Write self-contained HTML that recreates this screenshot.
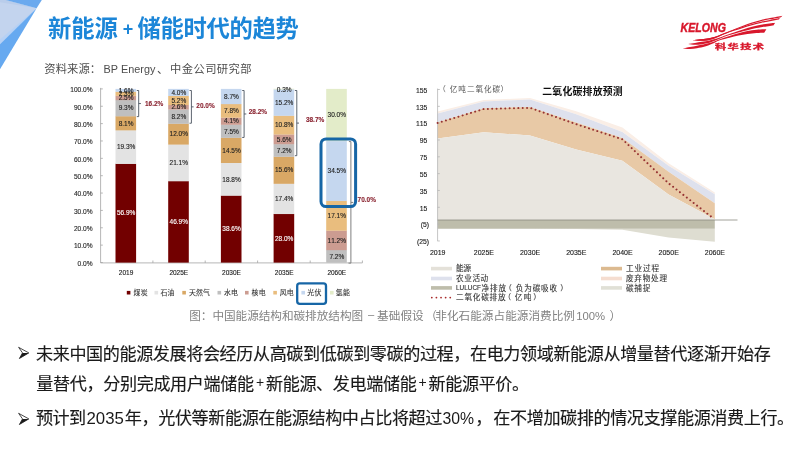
<!DOCTYPE html>
<html lang="zh-CN">
<head>
<meta charset="utf-8">
<title>新能源+储能时代的趋势</title>
<style>
html,body{margin:0;padding:0;background:#fff;}
body{width:800px;height:450px;overflow:hidden;font-family:"Liberation Sans","Noto Sans CJK SC",sans-serif;}
#slide{position:relative;width:800px;height:450px;background:#fff;overflow:hidden;}
#slide svg{position:absolute;left:0;top:0;display:block;will-change:transform;}
svg text{font-family:"Liberation Sans","Noto Sans CJK SC",sans-serif;font-kerning:none;}
.tx{position:absolute;margin:0;padding:0;color:transparent;white-space:nowrap;font-family:"Liberation Sans","Noto Sans CJK SC",sans-serif;font-weight:normal;line-height:1.2;list-style:none;}
.tx li{margin:0;padding:0;}
</style>
</head>
<body>
<div id="slide">
<svg width="800" height="450" viewBox="0 0 800 450">
<defs>
<filter id="soft" x="-2%" y="-2%" width="104%" height="104%"><feGaussianBlur stdDeviation="0.3"/></filter>
</defs>
<g id="bg-deco"><polygon points="0,0 5.6,0 36.6,8.3 0,44.2" fill="#c3d4ee"/><polygon points="0,0 5.6,0 36.6,8.3 0,2.2" fill="#b9cdeb"/><polygon points="36.6,8.3 0,39.5 0,44.2" fill="#b6d1f5"/><polygon points="5.6,0 41.8,0 36.6,8.3" fill="#6aa9ee"/><polygon points="36.6,8.3 0,44.2 0,69.2" fill="#66a9f0"/></g>
<g id="title" aria-hidden="true">
<text x="47.98" y="36.70" font-size="23.3" font-weight="bold" fill="#1c86d8" textLength="69.9" lengthAdjust="spacing">新能源</text>
<text x="127.9" y="35.2" font-size="18" font-weight="bold" fill="#1c86d8" text-anchor="middle">+</text>
<text x="137.39" y="36.70" font-size="23.3" font-weight="bold" fill="#1c86d8" textLength="161.3" lengthAdjust="spacing">储能时代的趋势</text>
</g>
<g id="source" aria-hidden="true">
<text x="44.25" y="72.70" font-size="11.3" fill="#4d4d4d" textLength="56.9" lengthAdjust="spacing">资料来源：</text>
<text transform="translate(103.40 72.50) scale(0.9459 1)" font-size="11.5" fill="#4d4d4d">BP Energy</text>
<text x="157.00" y="72.70" font-size="11.3" fill="#4d4d4d">、</text>
<text x="170.12" y="72.70" font-size="11.3" fill="#4d4d4d" textLength="81.4" lengthAdjust="spacing">中金公司研究部</text>
</g>
<g id="logo" role="img" aria-label="KELONG 科华技术" fill="#d8182c">
<path d="M693.30 40.05C694.42 39.91 697.72 39.48 700.00 39.20C702.28 38.93 704.83 38.73 707.00 38.40C709.17 38.07 711.17 37.66 713.00 37.20C714.83 36.74 716.00 36.39 718.00 35.65C720.00 34.91 722.33 33.87 725.00 32.79C727.67 31.71 731.00 30.33 734.00 29.16C737.00 27.98 740.00 26.85 743.00 25.75C746.00 24.65 749.00 23.54 752.00 22.57C755.00 21.60 758.00 20.70 761.00 19.94C764.00 19.19 766.43 18.75 770.00 18.03C773.57 17.32 780.33 16.05 782.40 15.65L781.00 17.15C779.17 17.52 773.33 18.68 770.00 19.37C766.67 20.05 764.00 20.51 761.00 21.25C758.00 21.99 755.00 22.86 752.00 23.80C749.00 24.75 746.00 25.84 743.00 26.90C740.00 27.97 737.00 29.04 734.00 30.18C731.00 31.32 727.67 32.60 725.00 33.73C722.33 34.85 720.00 36.07 718.00 36.95C716.00 37.83 714.83 38.42 713.00 39.00C711.17 39.58 709.17 40.10 707.00 40.40C704.83 40.70 702.28 40.81 700.00 40.80C697.72 40.79 694.42 40.42 693.30 40.35Z"/>
<path d="M693.30 40.05C694.42 39.91 697.72 39.48 700.00 39.20C702.28 38.93 704.83 38.73 707.00 38.40C709.17 38.07 711.17 37.66 713.00 37.20C714.83 36.74 716.00 36.34 718.00 35.65C720.00 34.96 722.33 34.05 725.00 33.07C727.67 32.10 731.00 30.87 734.00 29.82C737.00 28.77 740.00 27.77 743.00 26.80C746.00 25.82 749.00 24.85 752.00 24.00C755.00 23.14 758.00 22.33 761.00 21.65C764.00 20.97 766.80 20.52 770.00 19.93C773.20 19.34 778.50 18.41 780.20 18.10L778.80 19.60C777.33 19.87 772.97 20.71 770.00 21.27C767.03 21.83 764.00 22.30 761.00 22.96C758.00 23.62 755.00 24.40 752.00 25.23C749.00 26.06 746.00 27.01 743.00 27.95C740.00 28.89 737.00 29.83 734.00 30.84C731.00 31.85 727.67 32.99 725.00 34.01C722.33 35.03 720.00 36.12 718.00 36.95C716.00 37.78 714.83 38.42 713.00 39.00C711.17 39.58 709.17 40.10 707.00 40.40C704.83 40.70 702.28 40.81 700.00 40.80C697.72 40.79 694.42 40.42 693.30 40.35Z"/>
<path d="M688.80 43.85C689.83 43.69 692.80 43.23 695.00 42.90C697.20 42.57 699.58 42.25 702.00 41.85C704.42 41.45 707.17 41.00 709.50 40.50C711.83 40.00 713.92 39.48 716.00 38.85C718.08 38.22 720.00 37.43 722.00 36.70C724.00 35.97 726.00 35.17 728.00 34.45C730.00 33.73 731.50 33.23 734.00 32.40C736.50 31.57 740.00 30.45 743.00 29.50C746.00 28.55 749.00 27.51 752.00 26.70C755.00 25.89 757.13 25.32 761.00 24.65C764.87 23.98 772.83 23.02 775.20 22.70L773.40 25.40C771.33 25.69 764.57 26.57 761.00 27.15C757.43 27.73 755.00 28.21 752.00 28.90C749.00 29.59 746.00 30.48 743.00 31.30C740.00 32.12 736.50 33.09 734.00 33.80C731.50 34.51 730.00 34.90 728.00 35.55C726.00 36.20 724.00 36.90 722.00 37.70C720.00 38.50 718.08 39.52 716.00 40.35C713.92 41.18 711.83 42.07 709.50 42.70C707.17 43.33 704.42 43.82 702.00 44.15C699.58 44.48 697.20 44.70 695.00 44.70C692.80 44.70 689.83 44.24 688.80 44.15Z"/>
<path d="M683.20 48.45C684.33 48.22 687.70 47.49 690.00 47.05C692.30 46.61 694.50 46.29 697.00 45.80C699.50 45.31 702.67 44.65 705.00 44.10C707.33 43.55 709.17 43.07 711.00 42.50C712.83 41.93 714.42 41.29 716.00 40.70C717.58 40.11 718.25 39.72 720.50 38.95C722.75 38.18 726.50 37.04 729.50 36.10C732.50 35.16 735.50 34.13 738.50 33.30C741.50 32.47 744.50 31.70 747.50 31.10C750.50 30.50 753.35 30.01 756.50 29.70C759.65 29.39 764.75 29.32 766.40 29.25L764.20 32.65C762.92 32.69 759.28 32.69 756.50 32.90C753.72 33.11 750.50 33.47 747.50 33.90C744.50 34.33 741.50 34.87 738.50 35.50C735.50 36.13 732.50 36.94 729.50 37.70C726.50 38.46 722.75 39.35 720.50 40.05C718.25 40.75 717.58 41.19 716.00 41.90C714.42 42.61 712.83 43.53 711.00 44.30C709.17 45.07 707.33 45.85 705.00 46.50C702.67 47.15 699.50 47.79 697.00 48.20C694.50 48.61 692.30 48.86 690.00 48.95C687.70 49.04 684.33 48.78 683.20 48.75Z"/>
<text transform="translate(680.60 31.70) scale(0.8084 1)" font-size="13.1" fill="#d8182c" font-weight="bold" font-style="italic" stroke="#d8182c" stroke-width="0.45">KELONG</text>
<text transform="translate(714.93 48.71) scale(1.62 1)" font-size="6.9" font-weight="bold" fill="#d8182c" stroke="#d8182c" stroke-width="0.3" textLength="30.25" lengthAdjust="spacing">科华技术</text>
</g>
<g id="barchart" filter="url(#soft)">
<path d="M100.6 87.9V262.9H362.4" fill="none" stroke="#a3a3a3" stroke-width="0.8"/>
<text x="92.60" y="265.80" font-size="6.6" fill="#262626" text-anchor="end" stroke="#262626" stroke-width="0.12">0.0%</text>
<text x="92.60" y="248.44" font-size="6.6" fill="#262626" text-anchor="end" stroke="#262626" stroke-width="0.12">10.0%</text>
<text x="92.60" y="231.08" font-size="6.6" fill="#262626" text-anchor="end" stroke="#262626" stroke-width="0.12">20.0%</text>
<text x="92.60" y="213.72" font-size="6.6" fill="#262626" text-anchor="end" stroke="#262626" stroke-width="0.12">30.0%</text>
<text x="92.60" y="196.36" font-size="6.6" fill="#262626" text-anchor="end" stroke="#262626" stroke-width="0.12">40.0%</text>
<text x="92.60" y="179.00" font-size="6.6" fill="#262626" text-anchor="end" stroke="#262626" stroke-width="0.12">50.0%</text>
<text x="92.60" y="161.64" font-size="6.6" fill="#262626" text-anchor="end" stroke="#262626" stroke-width="0.12">60.0%</text>
<text x="92.60" y="144.28" font-size="6.6" fill="#262626" text-anchor="end" stroke="#262626" stroke-width="0.12">70.0%</text>
<text x="92.60" y="126.92" font-size="6.6" fill="#262626" text-anchor="end" stroke="#262626" stroke-width="0.12">80.0%</text>
<text x="92.60" y="109.56" font-size="6.6" fill="#262626" text-anchor="end" stroke="#262626" stroke-width="0.12">90.0%</text>
<text x="92.60" y="92.20" font-size="6.6" fill="#262626" text-anchor="end" stroke="#262626" stroke-width="0.12">100.0%</text>
<path d="M100.6 262.50h2.2M100.6 245.14h2.2M100.6 227.78h2.2M100.6 210.42h2.2M100.6 193.06h2.2M100.6 175.70h2.2M100.6 158.34h2.2M100.6 140.98h2.2M100.6 123.62h2.2M100.6 106.26h2.2M100.6 88.90h2.2M152.9 262.9v-2.4M205.2 262.9v-2.4M257.6 262.9v-2.4M310.2 262.9v-2.4M362.4 262.9v-2.4" fill="none" stroke="#a3a3a3" stroke-width="0.8"/>
<rect x="115.50" y="163.72" width="20.6" height="98.93" fill="#720404"/>
<rect x="115.50" y="130.22" width="20.6" height="33.65" fill="#e3e3e3"/>
<rect x="115.50" y="116.16" width="20.6" height="14.21" fill="#d9a865"/>
<rect x="115.50" y="100.01" width="20.6" height="16.29" fill="#bfbfbf"/>
<rect x="115.50" y="95.67" width="20.6" height="4.49" fill="#cc9c91"/>
<rect x="115.50" y="91.68" width="20.6" height="4.14" fill="#e9bd7e"/>
<rect x="115.50" y="88.90" width="20.6" height="2.93" fill="#c5d7ef"/>
<text x="126.10" y="215.46" font-size="6.5" fill="#fff" text-anchor="middle" stroke="#fff" stroke-width="0.12">56.9%</text>
<text x="126.10" y="149.32" font-size="6.5" fill="#222" text-anchor="middle" stroke="#222" stroke-width="0.12">19.3%</text>
<text x="126.10" y="125.54" font-size="6.5" fill="#222" text-anchor="middle" stroke="#222" stroke-width="0.12">8.1%</text>
<text x="126.10" y="110.43" font-size="6.5" fill="#222" text-anchor="middle" stroke="#222" stroke-width="0.12">9.3%</text>
<text x="126.10" y="100.19" font-size="6.5" fill="#222" text-anchor="middle" stroke="#222" stroke-width="0.12">2.5%</text>
<text x="126.10" y="96.02" font-size="6.5" fill="#222" text-anchor="middle" stroke="#222" stroke-width="0.12">2.3%</text>
<text x="126.10" y="92.64" font-size="6.5" fill="#222" text-anchor="middle" stroke="#222" stroke-width="0.12">1.6%</text>
<text x="126.10" y="274.70" font-size="6.5" fill="#1a1a1a" text-anchor="middle" stroke="#1a1a1a" stroke-width="0.12">2019</text>
<path d="M136.80 90.50H138.70V116.62H136.80M138.70 103.56h2.2" fill="none" stroke="#4a5260" stroke-width="0.9"/>
<text transform="translate(145.00 106.20) scale(0.9405 1)" font-size="6.9" fill="#8a2431" font-weight="bold" stroke="#8a2431" stroke-width="0.12">16.2%</text>
<rect x="168.20" y="181.08" width="20.6" height="81.57" fill="#720404"/>
<rect x="168.20" y="144.45" width="20.6" height="36.78" fill="#e3e3e3"/>
<rect x="168.20" y="123.62" width="20.6" height="20.98" fill="#d9a865"/>
<rect x="168.20" y="109.38" width="20.6" height="14.39" fill="#bfbfbf"/>
<rect x="168.20" y="104.87" width="20.6" height="4.66" fill="#cc9c91"/>
<rect x="168.20" y="95.84" width="20.6" height="9.18" fill="#e9bd7e"/>
<rect x="168.20" y="88.90" width="20.6" height="7.09" fill="#c5d7ef"/>
<text x="178.80" y="224.14" font-size="6.5" fill="#fff" text-anchor="middle" stroke="#fff" stroke-width="0.12">46.9%</text>
<text x="178.80" y="165.12" font-size="6.5" fill="#222" text-anchor="middle" stroke="#222" stroke-width="0.12">21.1%</text>
<text x="178.80" y="136.39" font-size="6.5" fill="#222" text-anchor="middle" stroke="#222" stroke-width="0.12">12.0%</text>
<text x="178.80" y="118.85" font-size="6.5" fill="#222" text-anchor="middle" stroke="#222" stroke-width="0.12">8.2%</text>
<text x="178.80" y="109.48" font-size="6.5" fill="#222" text-anchor="middle" stroke="#222" stroke-width="0.12">2.6%</text>
<text x="178.80" y="102.71" font-size="6.5" fill="#222" text-anchor="middle" stroke="#222" stroke-width="0.12">5.2%</text>
<text x="178.80" y="94.72" font-size="6.5" fill="#222" text-anchor="middle" stroke="#222" stroke-width="0.12">4.0%</text>
<text x="178.80" y="274.70" font-size="6.5" fill="#1a1a1a" text-anchor="middle" stroke="#1a1a1a" stroke-width="0.12">2025E</text>
<path d="M189.50 90.50H191.40V123.22H189.50M191.40 106.86h2.2" fill="none" stroke="#4a5260" stroke-width="0.9"/>
<text transform="translate(196.30 108.20) scale(0.9405 1)" font-size="6.9" fill="#8a2431" font-weight="bold" stroke="#8a2431" stroke-width="0.12">20.0%</text>
<rect x="220.90" y="195.49" width="20.6" height="67.16" fill="#720404"/>
<rect x="220.90" y="162.85" width="20.6" height="32.79" fill="#e3e3e3"/>
<rect x="220.90" y="137.68" width="20.6" height="25.32" fill="#d9a865"/>
<rect x="220.90" y="124.66" width="20.6" height="13.17" fill="#bfbfbf"/>
<rect x="220.90" y="117.54" width="20.6" height="7.27" fill="#cc9c91"/>
<rect x="220.90" y="104.00" width="20.6" height="13.69" fill="#e9bd7e"/>
<rect x="220.90" y="88.90" width="20.6" height="15.25" fill="#c5d7ef"/>
<text x="231.50" y="231.35" font-size="6.5" fill="#fff" text-anchor="middle" stroke="#fff" stroke-width="0.12">38.6%</text>
<text x="231.50" y="181.52" font-size="6.5" fill="#222" text-anchor="middle" stroke="#222" stroke-width="0.12">18.8%</text>
<text x="231.50" y="152.62" font-size="6.5" fill="#222" text-anchor="middle" stroke="#222" stroke-width="0.12">14.5%</text>
<text x="231.50" y="133.52" font-size="6.5" fill="#222" text-anchor="middle" stroke="#222" stroke-width="0.12">7.5%</text>
<text x="231.50" y="123.45" font-size="6.5" fill="#222" text-anchor="middle" stroke="#222" stroke-width="0.12">4.1%</text>
<text x="231.50" y="113.12" font-size="6.5" fill="#222" text-anchor="middle" stroke="#222" stroke-width="0.12">7.8%</text>
<text x="231.50" y="98.80" font-size="6.5" fill="#222" text-anchor="middle" stroke="#222" stroke-width="0.12">8.7%</text>
<text x="231.50" y="274.70" font-size="6.5" fill="#1a1a1a" text-anchor="middle" stroke="#1a1a1a" stroke-width="0.12">2030E</text>
<path d="M242.20 90.50H244.10V137.46H242.20M244.10 113.98h2.2" fill="none" stroke="#4a5260" stroke-width="0.9"/>
<text transform="translate(248.70 113.55) scale(0.9405 1)" font-size="6.9" fill="#8a2431" font-weight="bold" stroke="#8a2431" stroke-width="0.12">28.2%</text>
<rect x="273.60" y="213.89" width="20.6" height="48.76" fill="#720404"/>
<rect x="273.60" y="183.69" width="20.6" height="30.36" fill="#e3e3e3"/>
<rect x="273.60" y="156.60" width="20.6" height="27.23" fill="#d9a865"/>
<rect x="273.60" y="144.10" width="20.6" height="12.65" fill="#bfbfbf"/>
<rect x="273.60" y="134.38" width="20.6" height="9.87" fill="#cc9c91"/>
<rect x="273.60" y="115.63" width="20.6" height="18.90" fill="#e9bd7e"/>
<rect x="273.60" y="89.25" width="20.6" height="26.54" fill="#c5d7ef"/>
<rect x="273.60" y="88.73" width="20.6" height="0.67" fill="#e3ecc9"/>
<text x="284.20" y="240.55" font-size="6.5" fill="#fff" text-anchor="middle" stroke="#fff" stroke-width="0.12">28.0%</text>
<text x="284.20" y="201.14" font-size="6.5" fill="#222" text-anchor="middle" stroke="#222" stroke-width="0.12">17.4%</text>
<text x="284.20" y="172.49" font-size="6.5" fill="#222" text-anchor="middle" stroke="#222" stroke-width="0.12">15.6%</text>
<text x="284.20" y="152.70" font-size="6.5" fill="#222" text-anchor="middle" stroke="#222" stroke-width="0.12">7.2%</text>
<text x="284.20" y="141.59" font-size="6.5" fill="#222" text-anchor="middle" stroke="#222" stroke-width="0.12">5.6%</text>
<text x="284.20" y="127.36" font-size="6.5" fill="#222" text-anchor="middle" stroke="#222" stroke-width="0.12">10.8%</text>
<text x="284.20" y="104.79" font-size="6.5" fill="#222" text-anchor="middle" stroke="#222" stroke-width="0.12">15.2%</text>
<text x="284.20" y="92.20" font-size="6.5" fill="#222" text-anchor="middle" stroke="#222" stroke-width="0.12">0.3%</text>
<text x="284.20" y="274.70" font-size="6.5" fill="#1a1a1a" text-anchor="middle" stroke="#1a1a1a" stroke-width="0.12">2035E</text>
<path d="M294.90 90.50H296.80V155.68H294.90M296.80 123.09h2.2" fill="none" stroke="#4a5260" stroke-width="0.9"/>
<text transform="translate(305.90 121.55) scale(0.9405 1)" font-size="6.9" fill="#8a2431" font-weight="bold" stroke="#8a2431" stroke-width="0.12">38.7%</text>
<rect x="326.20" y="250.00" width="20.6" height="12.65" fill="#bfbfbf"/>
<rect x="326.20" y="230.56" width="20.6" height="19.59" fill="#cc9c91"/>
<rect x="326.20" y="200.87" width="20.6" height="29.84" fill="#e9bd7e"/>
<rect x="326.20" y="140.98" width="20.6" height="60.04" fill="#c5d7ef"/>
<rect x="326.20" y="88.90" width="20.6" height="52.23" fill="#e3ecc9"/>
<text x="336.80" y="258.60" font-size="6.5" fill="#222" text-anchor="middle" stroke="#222" stroke-width="0.12">7.2%</text>
<text x="336.80" y="242.63" font-size="6.5" fill="#222" text-anchor="middle" stroke="#222" stroke-width="0.12">11.2%</text>
<text x="336.80" y="218.06" font-size="6.5" fill="#222" text-anchor="middle" stroke="#222" stroke-width="0.12">17.1%</text>
<text x="336.80" y="173.28" font-size="6.5" fill="#222" text-anchor="middle" stroke="#222" stroke-width="0.12">34.5%</text>
<text x="336.80" y="117.29" font-size="6.5" fill="#222" text-anchor="middle" stroke="#222" stroke-width="0.12">30.0%</text>
<text x="336.80" y="274.70" font-size="6.5" fill="#1a1a1a" text-anchor="middle" stroke="#1a1a1a" stroke-width="0.12">2060E</text>
<path d="M348.90 141.58H350.9V263.10H348.50M350.9 202.4h2.4" fill="none" stroke="#7f7f7f" stroke-width="1"/>
<rect x="321" y="138.9" width="34.6" height="67.7" rx="5" ry="5" fill="none" stroke="#1766a6" stroke-width="3"/>
<text transform="translate(357.60 201.90) scale(0.9405 1)" font-size="6.9" fill="#8a2431" font-weight="bold" stroke="#8a2431" stroke-width="0.12">70.0%</text>
<rect x="126.8" y="290.9" width="3.6" height="3.6" fill="#720404"/>
<text x="133.60" y="295.30" font-size="6.9" fill="#333" stroke="#333" stroke-width="0.1" textLength="14.0" lengthAdjust="spacing">煤炭</text>
<rect x="154.5" y="290.9" width="3.6" height="3.6" fill="#e3e3e3"/>
<text x="160.50" y="295.30" font-size="6.9" fill="#333" stroke="#333" stroke-width="0.1" textLength="14.0" lengthAdjust="spacing">石油</text>
<rect x="182.3" y="290.9" width="3.6" height="3.6" fill="#d9a865"/>
<text x="188.90" y="295.30" font-size="6.9" fill="#333" stroke="#333" stroke-width="0.1" textLength="21.0" lengthAdjust="spacing">天然气</text>
<rect x="217.5" y="290.9" width="3.6" height="3.6" fill="#bfbfbf"/>
<text x="224.00" y="295.30" font-size="6.9" fill="#333" stroke="#333" stroke-width="0.1" textLength="14.0" lengthAdjust="spacing">水电</text>
<rect x="245.0" y="290.9" width="3.6" height="3.6" fill="#cc9c91"/>
<text x="251.60" y="295.30" font-size="6.9" fill="#333" stroke="#333" stroke-width="0.1" textLength="14.0" lengthAdjust="spacing">核电</text>
<rect x="273.3" y="290.9" width="3.6" height="3.6" fill="#e9bd7e"/>
<text x="279.70" y="295.30" font-size="6.9" fill="#333" stroke="#333" stroke-width="0.1" textLength="14.0" lengthAdjust="spacing">风电</text>
<rect x="301.4" y="290.9" width="3.6" height="3.6" fill="#c5d7ef"/>
<text x="307.30" y="295.30" font-size="6.9" fill="#333" stroke="#333" stroke-width="0.1" textLength="14.0" lengthAdjust="spacing">光伏</text>
<rect x="330.0" y="290.9" width="3.6" height="3.6" fill="#e3ecc9"/>
<text x="335.80" y="295.30" font-size="6.9" fill="#333" stroke="#333" stroke-width="0.1" textLength="14.0" lengthAdjust="spacing">氢能</text>
<rect x="297.2" y="283.3" width="28.8" height="20.6" rx="2.6" ry="2.6" fill="none" stroke="#1766a6" stroke-width="2.3"/>
</g>
<g id="areachart" filter="url(#soft)">
<polygon points="437.6,111.60 483.8,100.00 530.0,98.00 576.2,111.20 622.4,127.50 668.6,163.30 714.8,192.50 714.8,194.20 668.6,165.80 622.4,132.00 576.2,114.30 530.0,99.50 483.8,101.50 437.6,113.50" fill="#faeee6"/>
<polygon points="437.6,113.50 483.8,101.50 530.0,99.50 576.2,114.30 622.4,132.00 668.6,165.80 714.8,194.20 714.8,203.30 668.6,171.70 622.4,138.00 576.2,122.60 530.0,107.00 483.8,108.20 437.6,122.30" fill="#dee1ed"/>
<polygon points="437.6,122.30 483.8,108.20 530.0,107.00 576.2,122.60 622.4,138.00 668.6,171.70 714.8,203.30 714.8,219.20 668.6,194.50 622.4,160.70 576.2,149.60 530.0,135.50 483.8,132.20 437.6,138.50" fill="#e8c9a6"/>
<polygon points="437.6,138.50 483.8,132.20 530.0,135.50 576.2,149.60 622.4,160.70 668.6,194.50 714.8,219.20 714.8,220.00 668.6,220.00 622.4,220.00 576.2,220.00 530.0,220.00 483.8,220.00 437.6,220.00" fill="#e9e6e0"/>
<polygon points="437.6,228.80 483.8,228.80 530.0,228.80 576.2,228.80 622.4,228.80 668.6,228.80 714.8,228.80 714.8,241.80 668.6,237.60 622.4,229.80 576.2,228.90 530.0,228.80 483.8,228.80 437.6,228.80" fill="#deddd1"/>
<polygon points="437.6,220.00 483.8,220.00 530.0,220.00 576.2,220.00 622.4,220.00 668.6,220.00 714.8,220.00 714.8,228.80 668.6,228.80 622.4,228.80 576.2,228.80 530.0,228.80 483.8,228.80 437.6,228.80" fill="#bebdab"/>
<path d="M437.6 88.6V241.2" fill="none" stroke="#b5b5b5" stroke-width="0.8"/>
<text x="427.30" y="92.80" font-size="6.8" fill="#1a1a1a" text-anchor="end" stroke="#1a1a1a" stroke-width="0.12">155</text>
<text x="427.30" y="109.63" font-size="6.8" fill="#1a1a1a" text-anchor="end" stroke="#1a1a1a" stroke-width="0.12">135</text>
<text x="427.30" y="126.46" font-size="6.8" fill="#1a1a1a" text-anchor="end" stroke="#1a1a1a" stroke-width="0.12">115</text>
<text x="427.30" y="143.29" font-size="6.8" fill="#1a1a1a" text-anchor="end" stroke="#1a1a1a" stroke-width="0.12">95</text>
<text x="427.30" y="160.12" font-size="6.8" fill="#1a1a1a" text-anchor="end" stroke="#1a1a1a" stroke-width="0.12">75</text>
<text x="427.30" y="176.95" font-size="6.8" fill="#1a1a1a" text-anchor="end" stroke="#1a1a1a" stroke-width="0.12">55</text>
<text x="427.30" y="193.78" font-size="6.8" fill="#1a1a1a" text-anchor="end" stroke="#1a1a1a" stroke-width="0.12">35</text>
<text x="427.30" y="210.61" font-size="6.8" fill="#1a1a1a" text-anchor="end" stroke="#1a1a1a" stroke-width="0.12">15</text>
<text x="429.00" y="227.44" font-size="6.8" fill="#1a1a1a" text-anchor="end" stroke="#1a1a1a" stroke-width="0.12">(5)</text>
<text x="429.00" y="244.27" font-size="6.8" fill="#1a1a1a" text-anchor="end" stroke="#1a1a1a" stroke-width="0.12">(25)</text>
<path d="M437.6 89.50h2.2M437.6 106.33h2.2M437.6 123.16h2.2M437.6 139.99h2.2M437.6 156.82h2.2M437.6 173.65h2.2M437.6 190.48h2.2M437.6 207.31h2.2M437.6 224.14h2.2M437.6 240.97h2.2" fill="none" stroke="#b5b5b5" stroke-width="0.8"/>
<path d="M437.6 220.0H737.5" fill="none" stroke="#8b8b82" stroke-width="0.8"/>
<path d="M437.6 123.00L483.8 109.00L530.0 107.80L576.2 124.20L622.4 139.30L668.6 183.30L711.6 217.0" fill="none" stroke="#963232" stroke-width="2.0" stroke-linecap="round" stroke-dasharray="0.01 4.35"/>
<text x="437.70" y="254.80" font-size="7.0" fill="#1a1a1a" text-anchor="middle" stroke="#1a1a1a" stroke-width="0.12">2019</text>
<text x="483.90" y="254.80" font-size="7.0" fill="#1a1a1a" text-anchor="middle" stroke="#1a1a1a" stroke-width="0.12">2025E</text>
<text x="530.10" y="254.80" font-size="7.0" fill="#1a1a1a" text-anchor="middle" stroke="#1a1a1a" stroke-width="0.12">2030E</text>
<text x="576.30" y="254.80" font-size="7.0" fill="#1a1a1a" text-anchor="middle" stroke="#1a1a1a" stroke-width="0.12">2035E</text>
<text x="622.50" y="254.80" font-size="7.0" fill="#1a1a1a" text-anchor="middle" stroke="#1a1a1a" stroke-width="0.12">2040E</text>
<text x="668.70" y="254.80" font-size="7.0" fill="#1a1a1a" text-anchor="middle" stroke="#1a1a1a" stroke-width="0.12">2050E</text>
<text x="714.90" y="254.80" font-size="7.0" fill="#1a1a1a" text-anchor="middle" stroke="#1a1a1a" stroke-width="0.12">2060E</text>
<text x="542.30" y="94.80" font-size="9.9" font-weight="bold" fill="#111" textLength="80.4" lengthAdjust="spacing">二氧化碳排放预测</text>
<text x="449.80" y="92.30" font-size="7.6" fill="#555" textLength="50.4" lengthAdjust="spacing">亿吨二氧化碳</text>
<text x="438.20" y="92.30" font-size="7.6" fill="#555">（</text>
<text x="500.60" y="92.30" font-size="7.6" fill="#555">）</text>
<rect x="431" y="266.80" width="21" height="3.6" fill="#e4e1d9"/>
<text x="456.00" y="271.30" font-size="7.6" fill="#333" stroke="#333" stroke-width="0.1" textLength="15.2" lengthAdjust="spacing">能源</text>
<rect x="431" y="276.70" width="21" height="3.6" fill="#dee1ed"/>
<text x="456.00" y="281.20" font-size="7.6" fill="#333" stroke="#333" stroke-width="0.1" textLength="32.2" lengthAdjust="spacing">农业活动</text>
<rect x="431" y="286.10" width="21" height="3.6" fill="#bebdab"/>
<text transform="translate(456.00 290.30) scale(0.9888 1)" font-size="6.5" fill="#333" stroke="#333" stroke-width="0.12">LULUCF</text>
<text x="481.40" y="290.60" font-size="7.6" fill="#333" stroke="#333" stroke-width="0.1" textLength="24.6" lengthAdjust="spacing">净排放</text>
<text x="504.26" y="290.60" font-size="7.6" fill="#333" stroke="#333" stroke-width="0.1">（</text>
<text x="515.80" y="290.60" font-size="7.6" fill="#333" stroke="#333" stroke-width="0.1" textLength="41.3" lengthAdjust="spacing">负为碳吸收</text>
<text x="560.13" y="290.60" font-size="7.6" fill="#333" stroke="#333" stroke-width="0.1">）</text>
<path d="M431.8 297.6H452" fill="none" stroke="#a82a2a" stroke-width="1.8" stroke-linecap="round" stroke-dasharray="0.01 4.6"/>
<text x="456.00" y="300.30" font-size="7.6" fill="#333" stroke="#333" stroke-width="0.1" textLength="49.5" lengthAdjust="spacing">二氧化碳排放</text>
<text x="503.46" y="300.30" font-size="7.6" fill="#333" stroke="#333" stroke-width="0.1">（</text>
<text x="514.80" y="300.30" font-size="7.6" fill="#333" stroke="#333" stroke-width="0.1" textLength="16.6" lengthAdjust="spacing">亿吨</text>
<text x="533.33" y="300.30" font-size="7.6" fill="#333" stroke="#333" stroke-width="0.1">）</text>
<rect x="601" y="266.80" width="21" height="3.6" fill="#dcba90"/>
<text x="626.00" y="271.30" font-size="7.6" fill="#333" stroke="#333" stroke-width="0.1" textLength="33.0" lengthAdjust="spacing">工业过程</text>
<rect x="601" y="276.70" width="21" height="3.6" fill="#f5ddd0"/>
<text x="626.00" y="281.20" font-size="7.6" fill="#333" stroke="#333" stroke-width="0.1" textLength="41.0" lengthAdjust="spacing">废弃物处理</text>
<rect x="601" y="286.10" width="21" height="3.6" fill="#e0e0d6"/>
<text x="626.00" y="290.60" font-size="7.6" fill="#333" stroke="#333" stroke-width="0.1" textLength="24.3" lengthAdjust="spacing">碳捕捉</text>
</g>
<g id="caption" aria-hidden="true">
<text x="189.22" y="319.90" font-size="11.64" fill="#828282" textLength="173.9" lengthAdjust="spacing">图：中国能源结构和碳排放结构图</text>
<text x="368.00" y="317.50" font-size="11.2" fill="#828282">–</text>
<text x="377.08" y="319.90" font-size="11.64" fill="#828282" textLength="46.6" lengthAdjust="spacing">基础假设</text>
<text x="425.24" y="319.90" font-size="11.64" fill="#828282">（</text>
<text x="435.28" y="319.90" font-size="11.64" fill="#828282" textLength="139.7" lengthAdjust="spacing">非化石能源占能源消费比例</text>
<text transform="translate(576.20 319.50) scale(1.0124 1)" font-size="11.2" fill="#828282">100%</text>
<text x="609.60" y="319.90" font-size="11.64" fill="#828282">）</text>
</g>
<g id="bullets" aria-hidden="true">
<path d="M18.60 347.30L28.80 352.90L19.40 358.50L22.50 352.90Z" fill="none" stroke="#1a1a1a" stroke-width="0.8" stroke-linejoin="miter"/><path d="M28.80 352.90L19.40 358.50L22.50 352.90Z" fill="#1a1a1a"/>
<text x="36.00" y="360.35" font-size="17.1" fill="#1a1a1a" stroke="#1a1a1a" stroke-width="0.15" textLength="734.8" lengthAdjust="spacing">未来中国的能源发展将会经历从高碳到低碳到零碳的过程，在电力领域新能源从增量替代逐渐开始存</text>
<text x="36.30" y="390.00" font-size="17.1" fill="#1a1a1a" stroke="#1a1a1a" stroke-width="0.15" textLength="217.8" lengthAdjust="spacing">量替代，分别完成用户端储能</text>
<text x="260.0" y="387.4" font-size="14" fill="#1a1a1a" text-anchor="middle">+</text>
<text x="265.95" y="390.00" font-size="17.1" fill="#1a1a1a" stroke="#1a1a1a" stroke-width="0.15" textLength="150.8" lengthAdjust="spacing">新能源、发电端储能</text>
<text x="422.5" y="387.4" font-size="14" fill="#1a1a1a" text-anchor="middle">+</text>
<text x="428.60" y="390.00" font-size="17.1" fill="#1a1a1a" stroke="#1a1a1a" stroke-width="0.15" textLength="100.5" lengthAdjust="spacing">新能源平价。</text>
<path d="M18.60 413.30L28.80 418.90L19.40 424.50L22.50 418.90Z" fill="none" stroke="#1a1a1a" stroke-width="0.8" stroke-linejoin="miter"/><path d="M28.80 418.90L19.40 424.50L22.50 418.90Z" fill="#1a1a1a"/>
<text x="36.00" y="424.10" font-size="17.1" fill="#1a1a1a" stroke="#1a1a1a" stroke-width="0.15" textLength="50.2" lengthAdjust="spacing">预计到</text>
<text transform="translate(86.50 423.80) scale(0.9774 1)" font-size="17.2" fill="#1a1a1a">2035</text>
<text x="124.80" y="424.10" font-size="17.1" fill="#1a1a1a" stroke="#1a1a1a" stroke-width="0.15" textLength="317.6" lengthAdjust="spacing">年，光伏等新能源在能源结构中占比将超过</text>
<text transform="translate(442.40 423.80) scale(0.9179 1)" font-size="17.2" fill="#1a1a1a">30%</text>
<text x="475.30" y="424.10" font-size="17.1" fill="#1a1a1a" stroke="#1a1a1a" stroke-width="0.15">，</text>
<text x="493.30" y="424.10" font-size="17.1" fill="#1a1a1a" stroke="#1a1a1a" stroke-width="0.15" textLength="300.9" lengthAdjust="spacing">在不增加碳排的情况支撑能源消费上行。</text>
</g>
</svg>
<h1 class="tx" style="left:48px;top:14px;font-size:23px;font-weight:bold">新能源+储能时代的趋势</h1>
<p class="tx" style="left:44px;top:61px;font-size:11.5px">资料来源：BP Energy、中金公司研究部</p>
<p class="tx" style="left:190px;top:309px;font-size:11.6px">图：中国能源结构和碳排放结构图 – 基础假设（非化石能源占能源消费比例100%）</p>
<ul class="tx" style="left:36px;top:343px;font-size:16.7px;line-height:30px;white-space:normal;width:752px">
<li>未来中国的能源发展将会经历从高碳到低碳到零碳的过程，在电力领域新能源从增量替代逐渐开始存量替代，分别完成用户端储能+新能源、发电端储能+新能源平价。</li>
<li style="margin-top:4px;white-space:nowrap">预计到2035年，光伏等新能源在能源结构中占比将超过30%，在不增加碳排的情况支撑能源消费上行。</li>
</ul>
</div>
</body>
</html>
